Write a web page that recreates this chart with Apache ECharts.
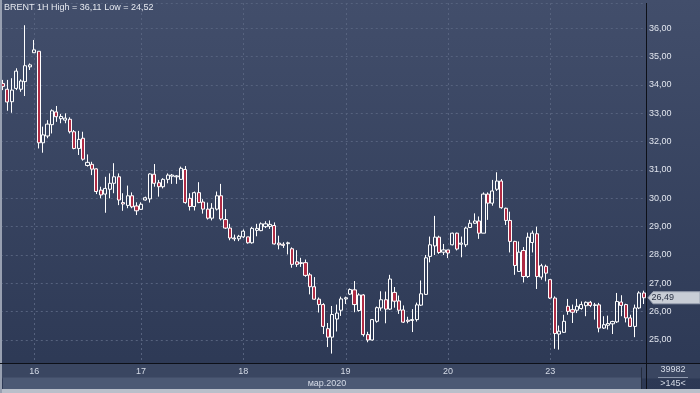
<!DOCTYPE html>
<html>
<head>
<meta charset="utf-8">
<script src="https://cdn.jsdelivr.net/npm/echarts@6/dist/echarts.min.js"></script>
<style>
html,body{margin:0;padding:0;background:#2c3854;}
#chart{width:700px;height:393px;}
</style>
</head>
<body>
<div id="chart"></div>
<script>
// ---- data (hourly BRENT candles) ----
const opens = [34.05,33.85,33.41,33.88,33.85,34.12,34.64,35.14,35.19,31.96,32.20,32.60,33.05,32.81,32.76,32.79,32.35,31.76,32.12,31.16,31.20,31.04,30.29,30.15,30.32,30.53,30.76,29.85,29.75,30.09,29.73,29.61,29.94,29.98,30.85,30.55,30.41,30.67,30.78,30.76,30.67,31.02,30.00,29.71,30.20,29.87,29.62,29.30,29.62,30.09,29.25,28.95,28.60,28.57,28.64,28.64,28.43,28.87,28.86,29.00,29.01,29.04,28.42,28.38,28.40,28.22,27.76,27.70,27.73,27.30,26.88,26.44,26.25,25.40,25.10,25.74,26.05,26.45,26.62,26.77,26.04,26.59,25.19,25.00,25.66,26.13,26.42,26.09,26.68,26.38,26.06,25.70,25.69,25.72,26.23,26.61,27.95,28.32,28.63,28.10,28.18,28.36,28.77,28.38,28.36,28.97,29.12,29.20,28.77,30.15,29.83,30.32,30.61,29.65,29.22,28.48,27.42,28.16,27.24,28.44,28.75,27.22,27.60,27.13,26.48,25.21,25.27,26.19,26.07,26.05,26.11,26.21,26.33,26.22,26.24,25.42,25.52,25.57,25.64,26.34,26.25,25.78,25.48,26.13,26.66];
const closes = [33.95,33.40,33.82,34.49,34.14,34.68,34.71,35.24,31.96,32.24,32.62,33.09,32.88,32.89,32.83,32.35,31.76,32.08,31.38,31.27,31.03,30.24,30.12,30.35,30.53,30.76,29.94,29.80,30.09,29.70,29.56,29.79,30.02,30.86,30.53,30.41,30.67,30.82,30.82,30.79,31.06,29.85,29.71,30.20,29.85,29.62,29.30,29.65,30.09,29.27,28.95,28.60,28.57,28.66,28.84,28.43,28.94,28.94,29.10,29.10,29.08,28.39,28.36,28.34,28.43,27.67,27.67,27.73,27.28,26.88,26.44,26.25,25.48,25.10,25.90,25.95,26.45,26.49,26.78,26.25,26.59,25.19,25.00,25.72,26.14,26.42,26.09,27.15,26.37,26.05,25.63,25.66,25.72,26.24,26.63,27.90,28.36,28.63,28.09,28.18,28.07,28.77,28.21,28.42,28.95,29.12,29.20,28.77,30.15,29.83,30.26,30.61,29.67,29.22,28.48,27.63,28.10,27.24,28.63,28.77,27.24,27.62,27.36,26.48,25.23,25.31,25.66,26.01,25.98,26.19,26.25,26.33,26.22,26.24,25.42,25.54,25.58,25.65,26.36,26.22,25.78,25.48,26.13,26.66,26.49];
const lows = [33.82,33.09,33.02,33.82,33.76,33.61,34.53,35.14,31.76,31.61,32.12,32.29,32.70,32.65,32.65,32.29,31.73,31.53,31.33,31.12,30.82,30.15,30.00,29.49,30.00,30.18,29.76,29.56,29.65,29.65,29.41,29.59,29.92,29.85,30.41,30.06,30.35,30.53,30.51,30.51,30.65,29.81,29.57,29.57,29.83,29.46,29.25,29.22,29.57,29.22,28.92,28.52,28.49,28.49,28.60,28.40,28.40,28.66,28.84,28.95,28.92,28.37,28.20,28.25,28.02,27.55,27.58,27.58,27.23,26.61,26.42,25.97,25.21,24.75,24.52,25.30,25.85,26.27,26.59,25.98,26.00,25.12,24.92,24.98,25.61,26.03,25.59,26.06,26.14,25.92,25.60,25.59,25.28,25.65,26.20,26.59,27.74,28.00,28.04,28.00,27.89,28.34,28.16,27.92,28.28,28.95,29.10,28.57,28.77,29.24,29.74,30.26,29.63,29.06,28.09,27.30,27.40,27.03,27.19,28.09,26.80,27.13,27.07,26.45,24.69,24.66,25.25,25.89,25.60,25.95,26.07,25.84,26.16,25.72,25.27,25.39,25.37,25.21,25.60,25.84,25.62,25.46,25.10,26.09,26.27];
const highs = [34.18,34.18,34.24,34.59,34.20,36.11,34.76,35.59,35.19,32.53,32.76,33.14,33.26,32.98,33.00,32.86,32.41,32.38,32.35,31.55,31.29,31.06,30.41,30.76,30.88,31.24,30.88,30.18,30.45,30.21,29.86,29.86,30.06,30.88,31.21,30.65,30.71,30.88,30.86,30.82,31.12,31.14,30.18,30.24,30.57,29.97,29.85,29.83,30.24,30.51,29.62,29.10,28.72,28.71,28.90,28.64,28.99,29.10,29.15,29.19,29.22,29.15,28.68,28.45,28.47,28.27,28.17,27.90,27.84,27.37,27.22,26.50,26.30,25.60,26.20,26.25,26.53,26.53,26.82,27.08,26.65,26.62,25.29,25.74,26.18,26.72,26.71,27.30,26.87,26.57,26.22,25.82,26.09,26.32,27.10,28.00,28.65,29.38,28.68,28.39,28.18,28.79,28.79,28.65,29.00,29.24,29.47,29.36,30.21,30.21,30.65,30.92,30.68,29.67,29.53,28.50,28.48,28.28,28.79,28.86,29.00,27.69,27.66,27.15,26.54,25.51,25.89,26.45,26.25,26.45,26.36,26.36,26.38,26.31,26.31,25.84,25.86,25.68,26.66,26.58,26.28,25.89,26.25,26.72,26.74];
const dayLabels = ['16','17','18','19','20','23'];
const dayStart = [7,31,54,77,100,123];
const monthLabel = 'мар.2020';
const titleText = 'BRENT 1H High = 36,11 Low = 24,52';
const volumeText = '39982';
const zoomText = '>145<';

// ---- build ----
const categories = opens.map((_, i) => {
  const k = dayStart.indexOf(i);
  return k >= 0 ? dayLabels[k] : '';
});
const candleData = opens.map((o, i) => [o, closes[i], lows[i], highs[i]]);
const fmt = v => v.toFixed(2).replace('.', ',');

const FONT = '"Liberation Sans", Arial, sans-serif';
const GRID = '#56627e';
const chart = echarts.init(document.getElementById('chart'), null, {renderer: 'canvas'});

chart.setOption({
  animation: false,
  backgroundColor: 'transparent',
  grid: {left: -0.4, right: 54.1, top: 3, bottom: 30, containLabel: false},
  xAxis: {
    type: 'category',
    data: categories,
    boundaryGap: true,
    z: 80,
    axisLine: {show: false},
    axisTick: {show: false},
    axisLabel: {interval: 0, margin: 4, fontSize: 9, fontFamily: FONT, color: '#d5dbe7'},
    splitLine: {show: false}
  },
  yAxis: {
    type: 'value',
    position: 'right',
    min: 24.188,
    max: 36.894,
    splitNumber: 12,
    minInterval: 1,
    maxInterval: 1,
    scale: true,
    axisLine: {show: false},
    axisTick: {show: false},
    axisLabel: {
      margin: 3, fontSize: 9, fontFamily: FONT, color: '#e1e5ee',
      showMinLabel: false, showMaxLabel: false,
      formatter: v => (Math.abs(v - Math.round(v)) < 1e-6 ? fmt(v) : '')
    },
    splitLine: {show: true, lineStyle: {color: GRID, type: [2, 3], width: 1}}
  },
  series: [{
    type: 'candlestick',
    data: candleData,
    barWidth: 3.6,
    clip: true,
    z: 5,
    itemStyle: {
      color: 'rgba(0,0,0,0)',
      color0: '#b02c45',
      borderColor: '#ffffff',
      borderColor0: '#ffffff',
      borderWidth: 1
    }
  }]
});

// pixel positions from the library's scales
const lastClose = closes[closes.length - 1];
const py = chart.convertToPixel({yAxisIndex: 0}, lastClose);
const gridRect = chart.getModel().getComponent('grid').coordinateSystem.getRect();
const axX = Math.round(gridRect.x + gridRect.width) + 0.5;
const axY = Math.round(gridRect.y + gridRect.height) + 0.5;
const topY = gridRect.y;

const txt = (x, y, text, align, fill) => ({
  type: 'text', z: 60, silent: true, x: x, y: y,
  style: {text: text, fill: fill || '#d5dbe7', fontSize: 9, fontFamily: FONT,
          textAlign: align || 'left', textVerticalAlign: 'middle'}
});

const dayLines = dayStart.map(i => {
  const x = Math.round(chart.convertToPixel({xAxisIndex: 0}, i)) + 0.5;
  return {type: 'line', z: -10, silent: true, shape: {x1: x, y1: topY, x2: x, y2: axY},
          style: {stroke: GRID, lineWidth: 1, lineDash: [2, 3]}};
});

chart.setOption({
  graphic: [
    {type: 'rect', z: -100, silent: true, shape: {x: 0, y: 0, width: 700, height: 393},
     style: {fill: new echarts.graphic.LinearGradient(0, 0, 0, 1, [
       {offset: 0, color: '#424e6b'}, {offset: 1, color: '#2c3854'}])}},
    ...dayLines,
    {type: 'rect', z: -50, silent: true, shape: {x: 0, y: axY, width: 700, height: 15}, style: {fill: '#3a4661'}},
    {type: 'rect', z: -50, silent: true, shape: {x: 3, y: axY + 14, width: 638, height: 12}, style: {fill: '#4c5974'}},
    {type: 'rect', z: 50, silent: true, shape: {x: 0, y: 389, width: 700, height: 4}, style: {fill: '#b9bfca'}},
    {type: 'rect', z: 50, silent: true, shape: {x: 0, y: 0, width: 2, height: 393}, style: {fill: '#98a0b1'}},
    {type: 'line', z: 60, silent: true, shape: {x1: 0, y1: axY, x2: 700, y2: axY}, style: {stroke: '#0d1018', lineWidth: 1}},
    {type: 'line', z: 60, silent: true, shape: {x1: axX, y1: 3, x2: axX, y2: 389}, style: {stroke: '#0d1018', lineWidth: 1}},
    {type: 'line', z: 60, silent: true, shape: {x1: 641.5, y1: axY + 4, x2: 641.5, y2: 389}, style: {stroke: '#232b3c', lineWidth: 1}},
    {type: 'line', z: 60, silent: true, shape: {x1: 658, y1: 377.5, x2: 688, y2: 377.5}, style: {stroke: '#8f99ad', lineWidth: 1}},
    {type: 'text', z: 60, silent: true, x: 4, y: 3,
     style: {text: titleText, fill: '#e6e9f0', fontSize: 9, fontFamily: FONT, textVerticalAlign: 'top'}},
    txt(327, axY + 20, monthLabel, 'center'),
    txt(673, 370, volumeText, 'center'),
    txt(673, 383.5, zoomText, 'center'),
    {type: 'polygon', z: 60, silent: true,
     shape: {points: [[axX + 1.5, py], [axX + 6.5, py - 6], [700, py - 6], [700, py + 6], [axX + 6.5, py + 6]]},
     style: {fill: '#c8cdd6', stroke: '#9aa2b2', lineWidth: 1}},
    txt(axX + 5, py, fmt(lastClose), 'left', '#2a3245')
  ]
});
</script>
</body>
</html>
